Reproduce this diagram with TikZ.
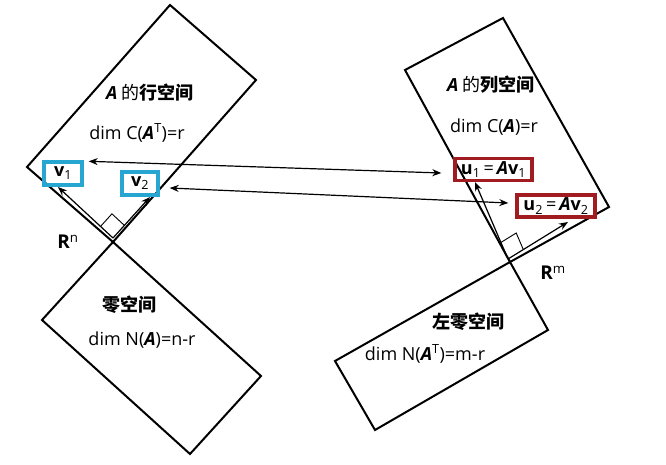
\documentclass[tikz,border=0pt]{standalone}
\usepackage{fontspec}
\setmainfont{Open Sans}
\newfontfamily\cjk{Noto Sans CJK SC}
\usetikzlibrary{arrows.meta, calc}
\definecolor{boxcyan}{RGB}{38,166,208}
\definecolor{boxred}{RGB}{160,28,32}
\tikzset{
    >={Stealth[length=9pt,width=7pt]},
    space/.style={draw, line width=2pt, line join=miter},
    vec/.style={->, line width=1.2pt},
    link/.style={<->, line width=1.2pt},
    vbox/.style={draw=boxcyan, line width=3.4pt, inner sep=0pt, minimum height=23pt},
    ubox/.style={draw=boxred, line width=3.4pt, inner sep=0pt, minimum height=22pt},
    txt/.style={font=\fontsize{18}{20}\selectfont},
    rlabel/.style={font=\fontsize{19}{20}\selectfont\bfseries},
}
\newcommand{\bA}{\textbf{\textit{A}}}
\newcommand{\vecb}[2]{\textbf{#1}\textsubscript{#2}}

\begin{document}
\begin{tikzpicture}[x=1pt,y=-1pt]
\useasboundingbox (0,0) rectangle (666,465);

% corners of the four subspaces
\coordinate (rowT) at (170,5);
\coordinate (rowR) at (256,80);
\coordinate (cn) at (113,242);
\coordinate (rowL) at (27,167);
\coordinate (nulR) at (261,376);
\coordinate (nulB) at (190,454);
\coordinate (nulL) at (42,320);

\coordinate (colT) at (503,18);
\coordinate (colR) at (609,207);
\coordinate (cm) at (510,262);
\coordinate (colL) at (405,70);
\coordinate (lnuR) at (548,330);
\coordinate (lnuB) at (375,430);
\coordinate (lnuL) at (335,361);

\draw[space] (rowT) -- (rowR) -- (cn) -- (rowL) -- cycle;
\draw[space] (cn) -- (nulR) -- (nulB) -- (nulL) -- cycle;
\draw[space] (colT) -- (colR) -- (cm) -- (colL) -- cycle;
\draw[space] (cm) -- (lnuR) -- (lnuB) -- (lnuL) -- cycle;

% texts
\node[txt] (rowname) at (150,93) {\bA\ {\cjk 的}{\cjk\bfseries 行空间}};
\node[txt] (rowdim) at (137,133) {dim C(\bA\textsuperscript{T})=r};
\node[txt] (nulname) at (129,305) {\cjk\bfseries 零空间};
\node[txt] (nuldim) at (142,340) {dim N(\bA)=n-r};
\node[txt] (colname) at (491,85) {\bA\ {\cjk 的}{\cjk\bfseries 列空间}};
\node[txt] (coldim) at (494,127) {dim C(\bA)=r};
\node[txt] (lnuname) at (468,322) {\cjk\bfseries 左零空间};
\node[txt] (lnudim) at (425,354) {dim N(\bA\textsuperscript{T})=m-r};

\node[rlabel] (rn) at (68,242) {R\textsuperscript{\mdseries n}};
\node[rlabel] (rm) at (553,273) {R\textsuperscript{\mdseries m}};

% vectors
\node[vbox, minimum width=38pt, txt] (v1) at (63,173.5) {\vecb{v}{1}};
\node[vbox, minimum width=36pt, txt] (v2) at (140,183.5) {\vecb{v}{2}};
\node[ubox, minimum width=77pt, txt] (u1) at (493.5,169.5) {\vecb{u}{1}\,=\,\bA\vecb{v}{1}};
\node[ubox, minimum width=78pt, txt] (u2) at (556,206) {\vecb{u}{2}\,=\,\bA\vecb{v}{2}};

\coordinate (on) at (113,238);
\coordinate (v1tip) at (58,187);
\coordinate (v2tip) at (150,197);
\coordinate (om) at (508,259);
\coordinate (u1tip) at (475,182);
\coordinate (u2tip) at (568,222);

\draw[vec] (on) -- (v1tip);
\draw[vec] (on) -- (v2tip);
\draw[vec] (om) -- (u1tip);
\draw[vec] (om) -- (u2tip);

% right angles
\draw[line width=0.9pt] ($(on)!17pt!(v1tip)$) -- ($(on)!17pt!(v1tip) + (on)!17pt!(v2tip) - (on)$) -- ($(on)!17pt!(v2tip)$);
\draw[line width=0.9pt] ($(om)!18pt!(u1tip)$) -- ($(om)!18pt!(u1tip) + (om)!18pt!(u2tip) - (om)$) -- ($(om)!18pt!(u2tip)$);

% v_i <-> u_i
\draw[link] ([xshift=5pt,yshift=-1pt]v1.north east) -- ([xshift=-12pt,yshift=-3.5pt]u1.west);
\draw[link] ([xshift=10pt,yshift=-4.5pt]v2.east) -- ([xshift=-7pt,yshift=3pt]u2.west);

\end{tikzpicture}
\end{document}
